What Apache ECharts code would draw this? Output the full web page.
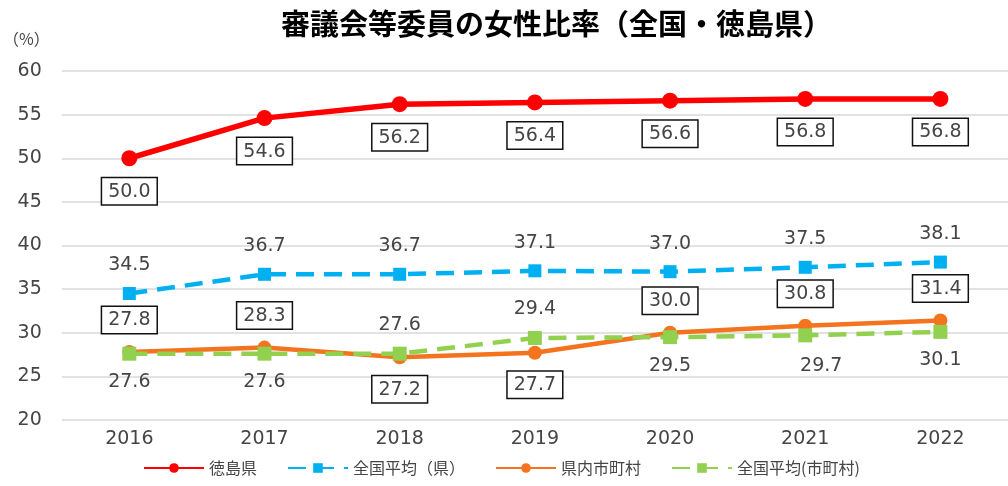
<!DOCTYPE html>
<html><head><meta charset="utf-8">
<script src="https://cdn.jsdelivr.net/npm/echarts@6/dist/echarts.min.js"></script>
<style>html,body{margin:0;padding:0;background:#fff}#c{width:1008px;height:486px}</style>
</head><body><div id="c"></div>
<script>
const categories = ['2016','2017','2018','2019','2020','2021','2022'];
const tokushima = [50.0, 54.6, 56.2, 56.4, 56.6, 56.8, 56.8];
const nationalPref = [34.5, 36.7, 36.7, 37.1, 37.0, 37.5, 38.1];
const municipalities = [27.8, 28.3, 27.2, 27.7, 30.0, 30.8, 31.4];
const nationalMuni = [27.6, 27.6, 27.6, 29.4, 29.5, 29.7, 30.1];
const seriesNames = ['徳島県', '全国平均（県）', '県内市町村', '全国平均(市町村)'];
const yTicks = {min: 20, max: 60, interval: 5};

const FONT = '"Noto Sans CJK JP", "Noto Sans", sans-serif';
const NUMFONT = '"DejaVu Sans", sans-serif';
const TXT = '#454545';
const W = 'normal';
const boxStyle = {
  color: TXT, fontSize: 19, fontFamily: NUMFONT, fontWeight: W,
  backgroundColor: '#fff', borderColor: '#111', borderWidth: 1.5,
  padding: [4, 6, 3, 6]
};
const plainStyle = {color: TXT, fontSize: 19, fontFamily: NUMFONT, fontWeight: W};

function withLabels(vals, places, boxed, extra) {
  return vals.map((v, i) => {
    const lab = Object.assign({show: true, position: places[i], distance: 12,
      formatter: (p) => p.value.toFixed(1)}, boxed ? boxStyle : plainStyle);
    if (extra && extra[i]) Object.assign(lab, extra[i]);
    return {value: v, label: lab};
  });
}

const chart = echarts.init(document.getElementById('c'), null, {renderer: 'canvas'});
chart.setOption({
  animation: false,
  title: {
    text: '審議会等委員の女性比率（全国・徳島県）',
    left: 276, top: 4,
    textStyle: {fontSize: 29, fontWeight: 'bold', color: '#000', fontFamily: FONT}
  },
  legend: {
    bottom: 5, left: 138, itemWidth: 60, itemHeight: 12, itemGap: 30,
    textStyle: {fontSize: 16, color: TXT, fontFamily: FONT},
    data: seriesNames
  },
  grid: {left: 60, top: 71, width: 952, bottom: 66},
  xAxis: {
    type: 'category', data: categories, boundaryGap: true,
    axisLine: {show: false}, axisTick: {show: false},
    axisLabel: {fontSize: 19, color: TXT, fontFamily: NUMFONT, fontWeight: W, margin: 10}
  },
  yAxis: {
    type: 'value', min: yTicks.min, max: yTicks.max, interval: yTicks.interval,
    name: '（%）', nameLocation: 'end', nameGap: 24,
    nameTextStyle: {fontSize: 16, color: TXT, fontFamily: FONT, align: 'right', padding: [0, 12, 0, 0]},
    axisLine: {show: false}, axisTick: {show: false},
    axisLabel: {fontSize: 19, color: TXT, fontFamily: NUMFONT, fontWeight: W, margin: 20},
    splitLine: {lineStyle: {color: '#d9d9d9', width: 1.5}}
  },
  series: [
    {
      name: seriesNames[0], type: 'line', z: 5,
      color: '#FF0000', symbol: 'circle', symbolSize: 16,
      lineStyle: {width: 5.5},
      data: withLabels(tokushima, Array(7).fill('bottom'), true)
    },
    {
      name: seriesNames[1], type: 'line', z: 3,
      color: '#00B0F0', symbol: 'rect', symbolSize: 13,
      lineStyle: {width: 4.5, type: [18, 10]},
      data: withLabels(nationalPref, Array(7).fill('top'), false)
    },
    {
      name: seriesNames[2], type: 'line', z: 4,
      color: '#F4731F', symbol: 'circle', symbolSize: 14,
      lineStyle: {width: 4.5},
      data: withLabels(municipalities, ['top','top','bottom','bottom','top','top','top'], true)
    },
    {
      name: seriesNames[3], type: 'line', z: 4,
      color: '#92D050', symbol: 'rect', symbolSize: 14,
      lineStyle: {width: 4.5, type: [18, 10]},
      data: withLabels(nationalMuni, ['bottom','bottom','top','top','bottom','bottom','bottom'], false,
        {5: {offset: [16, 2]}})
    }
  ]
});
</script></body></html>
